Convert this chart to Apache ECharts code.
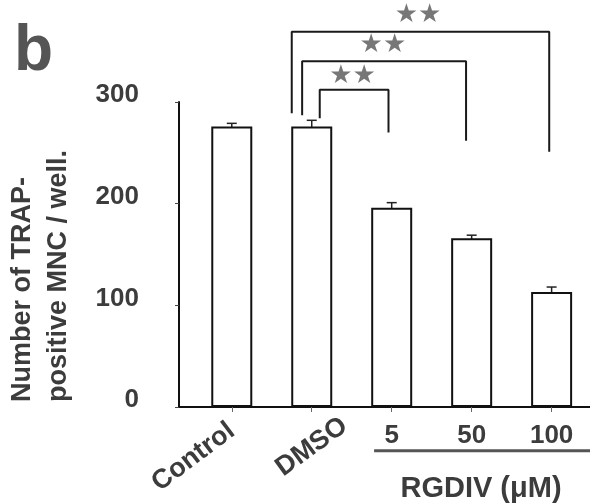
<!DOCTYPE html>
<html>
<head>
<meta charset="utf-8">
<script src="https://cdn.jsdelivr.net/npm/echarts@6/dist/echarts.min.js"></script>
<style>
  html, body { margin: 0; padding: 0; background: #fff; }
  #chart { width: 590px; height: 504px; }
</style>
</head>
<body>
<div id="chart"></div>
<script>
// groups and measured means (TRAP-positive MNC per well)
const categories = ["Control", "DMSO", "5", "50", "100"];
const counts = [276, 276, 196, 166, 113];
const errors = [3, 6, 5, 3, 5];

// significance brackets: [xLeft, xRight, yTop, yLegLeft, yLegRight]
const brackets = [
  [1.10, 1.96, 312, 284, 270],
  [0.88, 2.93, 340, 287, 262],
  [0.75, 3.97, 369, 289, 251]
];
// star marks above each bracket: [x, y]
const stars = [[1.51, 325], [1.89, 356], [2.33, 385]];
// line under the RGDIV doses
const doseLine = [[1.78, -43], [4.48, -43]];

const ink = "#3c3c3c";
const font = "Liberation Sans";

const chart = echarts.init(document.getElementById("chart"));

const bracketSeries = brackets.map(b => ({
  type: "line",
  clip: false,
  symbol: "none",
  silent: true,
  lineStyle: { color: "#1a1a1a", width: 2 },
  data: [[b[0], b[3]], [b[0], b[2]], [b[1], b[2]], [b[1], b[4]]]
}));

const option = {
  animation: false,
  backgroundColor: "#fff",
  grid: { left: 179, right: 0, top: 102, bottom: 97 },
  xAxis: [
    {
      type: "value", min: -0.66, max: 4.48, position: "bottom",
      splitLine: { show: false },
      axisLine: { onZero: false, lineStyle: { color: "#111", width: 2 } },
      axisTick: { customValues: [0, 1, 2, 3, 4], length: 5, lineStyle: { color: "#666" } },
      axisLabel: {
        customValues: [0], rotate: 37, margin: 21,
        formatter: v => categories[Math.round(v)],
        fontFamily: font, fontWeight: "bold", fontSize: 27, color: ink
      }
    },
    {
      type: "value", min: -0.66, max: 4.48, position: "bottom",
      splitLine: { show: false }, axisLine: { show: false, onZero: false }, axisTick: { show: false },
      axisLabel: {
        customValues: [1], rotate: 36, margin: 40, align: "center", verticalAlign: "middle",
        formatter: v => categories[Math.round(v)],
        fontFamily: font, fontWeight: "bold", fontSize: 27, color: ink
      }
    },
    {
      type: "value", min: -0.66, max: 4.48, position: "bottom",
      splitLine: { show: false }, axisLine: { show: false, onZero: false }, axisTick: { show: false },
      axisLabel: {
        customValues: [2, 3, 4], margin: 16,
        formatter: v => categories[Math.round(v)],
        fontFamily: font, fontWeight: "bold", fontSize: 26, color: ink
      }
    }
  ],
  yAxis: {
    type: "value", min: 0, max: 300, interval: 100,
    splitLine: { show: false },
    axisLine: { show: true, onZero: false, lineStyle: { color: "#111", width: 2 } },
    axisTick: { show: true, length: 4, lineStyle: { color: "#444" } },
    axisLabel: {
      margin: 40, verticalAlign: "bottom", lineHeight: 14,
      fontFamily: font, fontWeight: "bold", fontSize: 26, color: ink
    }
  },
  graphic: [
    {
      type: "text", left: 14, top: 20,
      style: { text: "b", fontFamily: font, fontWeight: "bold", fontSize: 64, fill: "#555" }
    },
    {
      type: "text", x: 77, y: 402, rotation: Math.PI / 2,
      style: {
        text: "Number of TRAP-\npositive MNC / well.",
        fontFamily: font, fontWeight: "bold", fontSize: 27, lineHeight: 36,
        fill: ink, align: "left", verticalAlign: "bottom"
      }
    },
    {
      type: "text", x: 481, y: 489,
      style: {
        text: "RGDIV (\u03bcM)", fontFamily: font, fontWeight: "bold", fontSize: 29,
        fill: ink, align: "center", verticalAlign: "middle"
      }
    }
  ],
  series: [
    {
      type: "bar",
      barWidth: 41,
      itemStyle: { color: "#fff", borderColor: "#111", borderWidth: 2 },
      data: counts.map((c, i) => [i, c])
    },
    {
      type: "custom",
      silent: true,
      renderItem: (params, api) => {
        const x = api.value(0), v = api.value(1), e = api.value(2);
        const hi = api.coord([x, v + e]);
        const lo = api.coord([x, v - e]);
        const cap = 5;
        const st = { stroke: "#222", lineWidth: 1.5 };
        return {
          type: "group",
          children: [
            { type: "line", shape: { x1: hi[0], y1: hi[1], x2: lo[0], y2: lo[1] }, style: st },
            { type: "line", shape: { x1: hi[0] - cap, y1: hi[1], x2: hi[0] + cap, y2: hi[1] }, style: st },
            { type: "line", shape: { x1: lo[0] - cap, y1: lo[1], x2: lo[0] + cap, y2: lo[1] }, style: st }
          ]
        };
      },
      data: counts.map((c, i) => [i, c, errors[i]])
    },
    ...bracketSeries,
    {
      type: "scatter",
      clip: false,
      symbolSize: 0,
      silent: true,
      label: {
        show: true, position: "inside", formatter: "\u2605\u2605",
        fontFamily: "DejaVu Sans", fontSize: 26, color: "#555"
      },
      data: stars
    },
    {
      type: "line",
      clip: false,
      symbol: "none",
      silent: true,
      lineStyle: { color: "#555", width: 3 },
      data: doseLine
    }
  ]
};

chart.setOption(option);
</script>
</body>
</html>
